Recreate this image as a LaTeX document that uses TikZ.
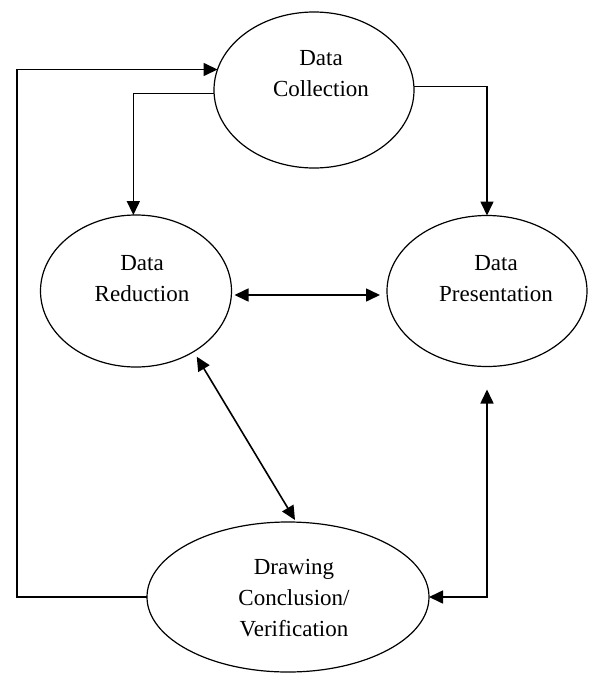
\documentclass[tikz,border=0pt]{standalone}
\usepackage{fontspec}
\setmainfont{Liberation Serif}
\usetikzlibrary{arrows.meta,shapes.geometric}
\begin{document}
\begin{tikzpicture}[x=1pt,y=-1pt,
  ell/.style={draw, ellipse, line width=1.2pt, inner sep=0pt, outer sep=0pt},
  lbl/.style={align=center, font=\fontsize{23}{31}\selectfont, inner sep=0pt},
  conn/.style={line width=1.6pt, >={Triangle[length=14pt,width=13pt]}}]
\useasboundingbox (0,0) rectangle (589,673);
% ellipses
\node[ell, minimum width=200pt, minimum height=156pt] (DC) at (314,90) {};
\node[ell, minimum width=191pt, minimum height=152pt] (R) at (136,291) {};
\node[ell, minimum width=200pt, minimum height=151pt] (P) at (487,291) {};
\node[ell, minimum width=282pt, minimum height=150pt] (C) at (288,597) {};
% labels
\node[lbl] (DCt) at (321,74) {Data\\Collection};
\node[lbl] (Rt) at (142,279) {Data\\Reduction};
\node[lbl] (Pt) at (496,279) {Data\\Presentation};
\node[lbl] (Ct) at (294,598) {Drawing\\Conclusion/\\Verification};
% coordinates
\coordinate (lx) at (17,0);
% connectors
\draw[conn,->] (C.west) -| (lx |- DC.168) -- (DC.168);
\draw[conn,->] (DC.182) -| (R.92);
\draw[conn,->] (DC.2) -| (P.north);
\draw[conn,<->] ([xshift=3pt,yshift=-4pt]R.east) -- ([xshift=-7pt,yshift=-4pt]P.west);
\draw[conn,<->] ([yshift=-7pt]R.-44) -- ([xshift=7pt,yshift=2pt]C.north);
\draw[conn,<->] ([yshift=-23pt]P.south) |- (C.east);
\end{tikzpicture}
\end{document}
